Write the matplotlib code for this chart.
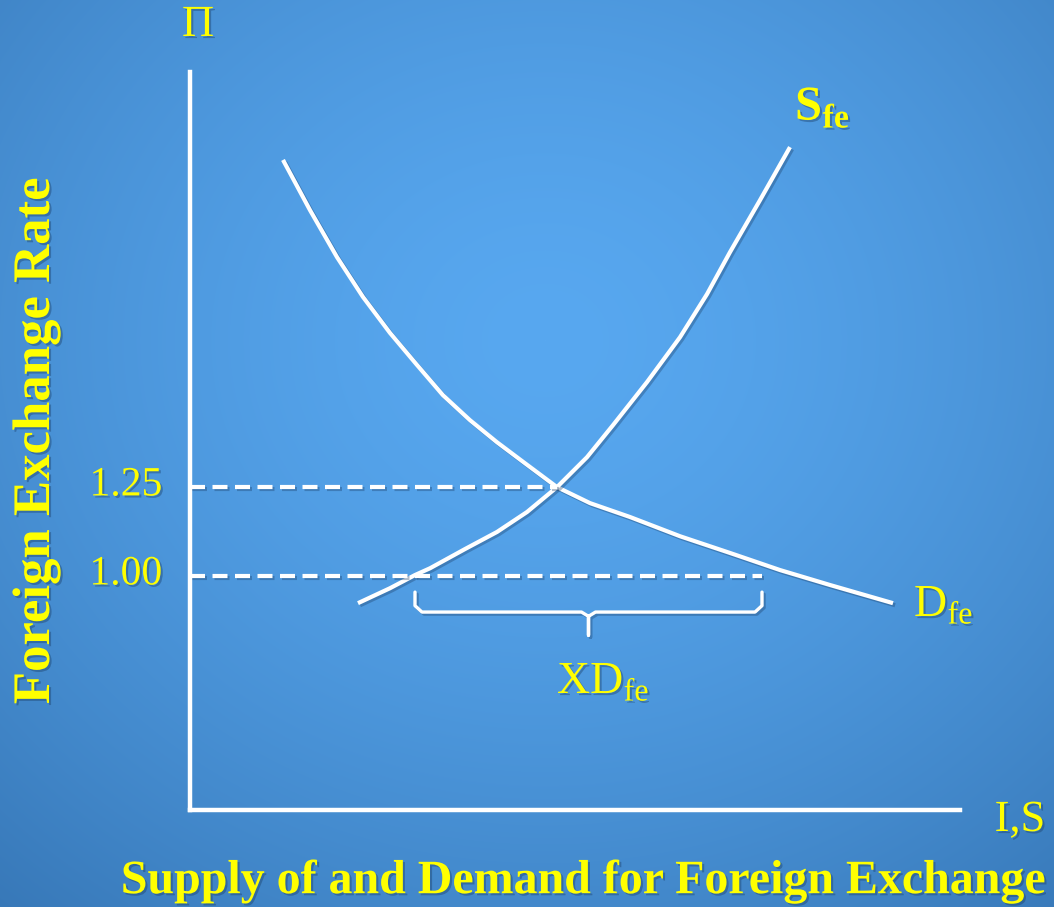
import numpy as np
import matplotlib
matplotlib.use("Agg")
import matplotlib.pyplot as plt
import matplotlib.patheffects as pe

plt.rcParams['font.family'] = ['Liberation Serif', 'DejaVu Serif']
plt.rcParams['mathtext.fontset'] = 'custom'
plt.rcParams['mathtext.rm'] = 'Liberation Serif'
plt.rcParams['mathtext.bf'] = 'Liberation Serif:bold'

# ---- data (quantity in arbitrary units, rate) ----
demand_q = [93, 120, 147, 173, 200, 227, 253, 280, 307, 335, 367, 400, 440, 490, 540, 590, 640, 703]
demand_p = [2.169, 2.028, 1.896, 1.784, 1.683, 1.593, 1.508, 1.438, 1.376, 1.317, 1.250,
            1.205, 1.166, 1.112, 1.065, 1.017, 0.975, 0.924]
supply_q = [168, 200, 225, 240, 275, 307, 337, 367, 397, 423, 457, 490, 517, 540, 570, 600]
supply_p = [0.924, 0.966, 1.003, 1.022, 1.076, 1.124, 1.180, 1.250, 1.334, 1.424, 1.545,
            1.671, 1.792, 1.910, 2.056, 2.205]
rates = [1.00, 1.25]
rate_labels = ['1.00', '1.25']
eq_q = 367            # quantity at equilibrium (rate 1.25)
demand_q_at_1 = 572   # quantity demanded at 1.00
supply_q_at_1 = 225   # quantity supplied at 1.00

YEL = '#FFFF00'
W = 1054; H = 907
fig = plt.figure(figsize=(W/100, H/100), dpi=100)

# background radial gradient
bg = fig.add_axes([0, 0, 1, 1])
yy, xx = np.mgrid[0:H, 0:W]
d = np.sqrt(((xx - 545) / 900.0) ** 2 + ((yy - 340) / 800.0) ** 2)
d = np.clip(d, 0, 1) ** 1.5
c0 = np.array([88, 168, 240]) / 255.0
c1 = np.array([52, 115, 178]) / 255.0
img = c0[None, None, :] * (1 - d[..., None]) + c1[None, None, :] * d[..., None]
bg.imshow(img, aspect='auto', extent=[0, 1, 0, 1], origin='upper')
bg.set_axis_off()

SH = '#1a3d66'
shadow = [pe.SimpleLineShadow(offset=(1.5, -1.5), shadow_color=SH, alpha=0.35), pe.Normal()]
tshadow = [pe.SimplePatchShadow(offset=(1.5, -1.5), shadow_rgbFace=SH, alpha=0.4), pe.Normal()]

ax = fig.add_axes([190/W, (H-810)/H, (960-190)/W, (810-72)/H])
ax.patch.set_alpha(0)
ax.set_xlim(0, 770)
ax.set_ylim(0.343, 2.416)
for s in ['top', 'right']:
    ax.spines[s].set_visible(False)
for s in ['left', 'bottom']:
    ax.spines[s].set_color('white')
    ax.spines[s].set_linewidth(3.2)
ax.set_xticks([])
ax.set_yticks([])
for r_, lab in zip(rates, rate_labels):
    t = ax.annotate(lab, xy=(0, r_), xycoords=('axes fraction', 'data'),
                    xytext=(-20, -6), textcoords='offset points',
                    ha='right', va='baseline', fontsize=30, color=YEL)
    t.set_path_effects(tshadow)

ax.plot(demand_q, demand_p, color='white', lw=3.0, solid_capstyle='butt', solid_joinstyle='round', path_effects=shadow)
ax.plot(supply_q, supply_p, color='white', lw=3.0, solid_capstyle='butt', solid_joinstyle='round', path_effects=shadow)

ax.plot([0, eq_q], [1.25, 1.25], color='white', lw=3.0, dashes=(3.6, 1.8), path_effects=shadow)
ax.plot([0, demand_q_at_1], [1.00, 1.00], color='white', lw=3.0, dashes=(3.6, 1.8), path_effects=shadow)

# brace under the excess-demand gap
x0, x1 = supply_q_at_1, demand_q_at_1
xm = (x0 + x1) / 2
ytop, ybar, ytip = 0.955, 0.899, 0.834
r = 7
bx = [x0, x0, x0 + r, xm - r, xm, xm, xm, xm + r, x1 - r, x1, x1]
by = [ytop, ybar + 0.018, ybar, ybar, ybar - 0.012, ytip, ybar - 0.012, ybar, ybar, ybar + 0.018, ytop]
ax.plot(bx, by, color='white', lw=2.4, solid_joinstyle='round', solid_capstyle='round', path_effects=shadow)

def txt(x, y, s, size, **kw):
    t = fig.text(x / W, 1 - y / H, s, fontsize=size, color=YEL, **kw)
    t.set_path_effects(tshadow)
    return t

txt(198, 25, 'Π', 32, ha='center', va='center')
txt(36, 441, 'Foreign Exchange Rate', 38, ha='center', va='center', rotation=90, fontweight='bold')
txt(583, 881, 'Supply of and Demand for Foreign Exchange', 34.5, ha='center', va='center', fontweight='bold')
txt(1020, 820, 'I,S', 32, ha='center', va='center')
txt(795, 108, r'$\mathbf{S}_{\mathbf{fe}}$', 35, ha='left', va='center')
txt(914, 605, r'$\mathrm{D}_{\mathrm{fe}}$', 33, ha='left', va='center')
txt(557, 682, r'$\mathrm{XD}_{\mathrm{fe}}$', 33, ha='left', va='center')

fig.savefig('out.png', dpi=100)
